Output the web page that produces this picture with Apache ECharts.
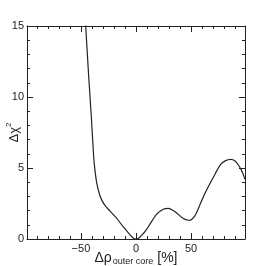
<!DOCTYPE html>
<html>
<head>
<meta charset="utf-8">
<script src="https://cdn.jsdelivr.net/npm/echarts@6/dist/echarts.min.js"></script>
<style>html,body{margin:0;padding:0;background:#fff}#c{width:273px;height:266px}</style>
</head>
<body>
<div id="c"></div>
<script>
// Δρ outer core [%]
const rho = [-47.3,-45.7,-43,-40.5,-39,-37.8,-35.8,-33.2,-30.5,-27.5,-24,-18,-12,-6,-2,0,2,5,8.5,12.7,18.8,24.8,29.4,35.5,43,48.5,53.6,58,61.2,67.3,72,76.4,81,86.1,90,93,96,99];
// Δχ²
const chi2 = [17,15,11.5,8.5,6.5,5.2,4.0,3.15,2.65,2.3,2.0,1.5,0.9,0.35,0.03,0,0.03,0.25,0.55,1.05,1.75,2.1,2.16,1.92,1.45,1.32,1.65,2.4,2.98,3.92,4.6,5.21,5.5,5.61,5.5,5.21,4.8,4.2];
const xMajor = [-50,0,50];
const xMinor = [-90,-80,-70,-60,-40,-30,-20,-10,10,20,30,40,60,70,80,90];
const xRange = [-99,99];
const yRange = [0,15];
const yStep = 5;

const font = 'Liberation Sans';
const ink = '#222';
const lineSty = {color: ink, width: 1};
function xAx(pos, ticks, len, showLine, labels, extra) {
  return Object.assign({
    type: 'value', position: pos, min: xRange[0], max: xRange[1],
    axisLine: {show: showLine, onZero: false, lineStyle: lineSty},
    axisTick: {show: true, inside: true, length: len, customValues: ticks, lineStyle: lineSty},
    axisLabel: labels ? {show: true, customValues: ticks, color: ink, fontFamily: font, fontSize: 11, margin: 4,
      formatter: v => String(v).replace('-', '\u2212')} : {show: false},
    splitLine: {show: false}
  }, extra || {});
}
function yAx(pos, labels, extra) {
  return Object.assign({
    type: 'value', position: pos, min: yRange[0], max: yRange[1], interval: yStep,
    axisLine: {show: true, onZero: false, lineStyle: lineSty},
    axisTick: {show: true, inside: true, length: 6, lineStyle: lineSty},
    minorTick: {show: true, splitNumber: 5, length: 3, lineStyle: lineSty},
    axisLabel: labels ? {show: true, color: ink, fontFamily: font, fontSize: 11, margin: 3} : {show: false},
    splitLine: {show: false}, minorSplitLine: {show: false}
  }, extra || {});
}
const chart = echarts.init(document.getElementById('c'), null, {renderer: 'canvas'});
chart.setOption({
  animation: false,
  backgroundColor: '#fff',
  grid: {left: 27, right: 28, top: 26, bottom: 27, containLabel: false, outerBoundsMode: 'none'},
  xAxis: [
    xAx('bottom', xMajor, 6, true, true, {
      name: '{a|\u0394\u03c1}{b|outer core}{c| [%]}',
      nameLocation: 'middle', nameGap: 12, nameMoveOverlap: false,
      nameTextStyle: {color: ink, fontFamily: font, rich: {
        a: {fontSize: 14, fontFamily: font, color: ink, verticalAlign: 'top', lineHeight: 16},
        b: {fontSize: 9, fontFamily: font, color: ink, padding: [6,0,0,1], lineHeight: 10},
        c: {fontSize: 14, fontFamily: font, color: ink, verticalAlign: 'top', lineHeight: 16}
      }}
    }),
    xAx('bottom', xMinor, 3, false, false),
    xAx('top', xMajor, 6, true, false),
    xAx('top', xMinor, 3, false, false)
  ],
  yAxis: [
    yAx('left', true, {
      name: '{a|\u0394\u03c7}{s|2}', nameLocation: 'middle', nameRotate: 90, nameGap: 6, nameMoveOverlap: false,
      nameTextStyle: {color: ink, fontFamily: font, rich: {
        a: {fontSize: 13, fontFamily: font, color: ink, lineHeight: 16, verticalAlign: 'bottom'},
        s: {fontSize: 8, fontFamily: font, color: ink, padding: [0,0,8,0], lineHeight: 10, verticalAlign: 'top'}
      }}
    }),
    yAx('right', false)
  ],
  series: [{
    type: 'line', xAxisIndex: 0, yAxisIndex: 0,
    data: rho.map((x, i) => [x, chi2[i]]),
    showSymbol: false, smooth: 0.3, clip: true,
    lineStyle: {color: ink, width: 1.2}
  }]
});
</script>
</body>
</html>
